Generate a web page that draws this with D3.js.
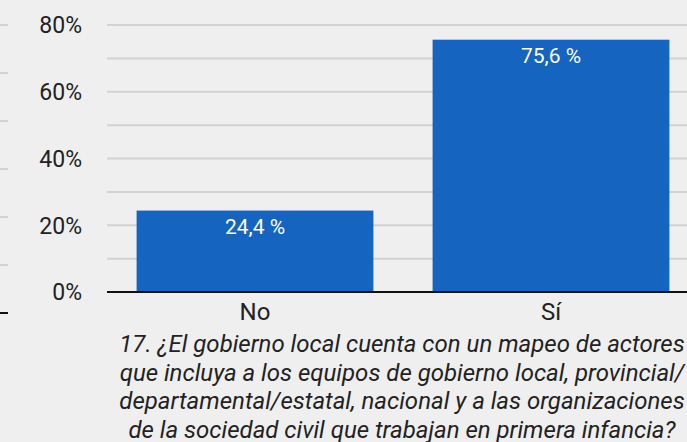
<!DOCTYPE html>
<html>
<head>
<meta charset="utf-8">
<script src="https://cdn.jsdelivr.net/npm/d3@7"></script>
<style>
  html, body { margin: 0; padding: 0; background: #efefef; }
  svg { display: block; font-family: Roboto, "Noto Sans", sans-serif; }
</style>
</head>
<body>
<svg id="chart" width="687" height="442"></svg>
<script>
// data
const categories = ["No", "Sí"];
const values = [24.4, 75.6];
const valueLabels = ["24,4 %", "75,6 %"];
const yTicks = [0, 20, 40, 60, 80];
const gridTicks = [0, 10, 20, 30, 40, 50, 60, 70, 80];
const titleLines = [
  "17. ¿El gobierno local cuenta con un mapeo de actores",
  "que incluya a los equipos de gobierno local, provincial/",
  "departamental/estatal, nacional y a las organizaciones",
  "de la sociedad civil que trabajan en primera infancia?"
];
// edge of the previous chart, cut off at the left border
const prevGrid = [0, 1, 2, 3, 4, 5, 6];

let svg = d3.select("#chart");

// scales
let x = d3.scaleBand()
  .domain(categories)
  .range([107, 699])
  .paddingInner(0.2)
  .paddingOuter(0.1);

let y = d3.scaleLinear()
  .domain([0, 80])
  .range([292, 25]);

let yPrev = d3.scaleLinear()
  .domain([0, 6])
  .range([313, 25]);

// cut-off neighbour chart
svg.append("g")
  .selectAll("line")
  .data(prevGrid.slice(1))
  .join("line")
  .attr("x1", 0).attr("x2", 8)
  .attr("y1", d => yPrev(d)).attr("y2", d => yPrev(d))
  .attr("stroke", "#d2d2d2")
  .attr("stroke-width", 2);

svg.append("line")
  .attr("x1", 0).attr("x2", 8)
  .attr("y1", yPrev(0)).attr("y2", yPrev(0))
  .attr("stroke", "#111")
  .attr("stroke-width", 2);

// gridlines
svg.append("g")
  .selectAll("line")
  .data(gridTicks.slice(1))
  .join("line")
  .attr("x1", 107).attr("x2", 687)
  .attr("y1", d => y(d)).attr("y2", d => y(d))
  .attr("stroke", "#d2d2d2")
  .attr("stroke-width", 2);

// y axis labels
svg.append("g")
  .selectAll("text")
  .data(yTicks)
  .join("text")
  .attr("x", 82)
  .attr("y", d => y(d))
  .attr("dy", "0.36em")
  .attr("text-anchor", "end")
  .attr("font-size", 23)
  .attr("fill", "#222")
  .text(d => d + "%");

// bars
svg.append("g")
  .selectAll("rect")
  .data(values)
  .join("rect")
  .attr("x", (d, i) => x(categories[i]))
  .attr("y", d => y(d))
  .attr("width", x.bandwidth())
  .attr("height", d => y(0) - y(d))
  .attr("fill", "#1565c0");

// value labels
svg.append("g")
  .selectAll("text")
  .data(values)
  .join("text")
  .attr("x", (d, i) => x(categories[i]) + x.bandwidth() / 2)
  .attr("y", d => y(d) + 23)
  .attr("text-anchor", "middle")
  .attr("font-size", 21)
  .attr("fill", "#ffffff")
  .text((d, i) => valueLabels[i]);

// baseline
svg.append("line")
  .attr("x1", 107).attr("x2", 687)
  .attr("y1", y(0)).attr("y2", y(0))
  .attr("stroke", "#111")
  .attr("stroke-width", 2);

// category labels
svg.append("g")
  .selectAll("text")
  .data(categories)
  .join("text")
  .attr("x", d => x(d) + x.bandwidth() / 2)
  .attr("y", 320)
  .attr("text-anchor", "middle")
  .attr("font-size", 24)
  .attr("fill", "#222")
  .text(d => d);

// axis title
svg.append("g")
  .selectAll("text")
  .data(titleLines)
  .join("text")
  .attr("x", 402)
  .attr("y", (d, i) => 352 + i * 28.5)
  .attr("text-anchor", "middle")
  .attr("font-size", 24)
  .attr("font-style", "italic")
  .attr("fill", "#222")
  .text(d => d);
</script>
</body>
</html>
